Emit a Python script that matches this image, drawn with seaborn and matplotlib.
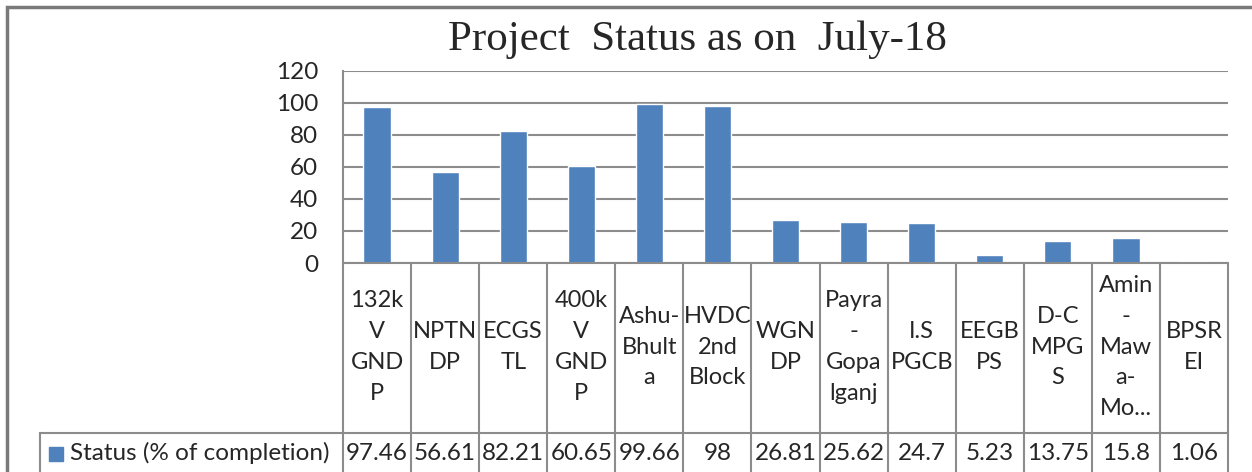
import matplotlib
matplotlib.use("Agg")
import matplotlib.pyplot as plt
import matplotlib.transforms as mtransforms
from matplotlib.patches import Rectangle
import seaborn as sns
import pandas as pd

# Chart data
projects = ["132k\nV\nGND\nP", "NPTN\nDP", "ECGS\nTL", "400k\nV\nGND\nP", "Ashu-\nBhult\na",
            "HVDC\n2nd\nBlock", "WGN\nDP", "Payra\n-\nGopa\nlganj", "I.S\nPGCB", "EEGB\nPS",
            "D-C\nMPG\nS", "Amin\n-\nMaw\na-\nMo...", "BPSR\nEI"]
status = [97.46, 56.61, 82.21, 60.65, 99.66, 98, 26.81, 25.62, 24.7, 5.23, 13.75, 15.8, 1.06]
value_labels = ["97.46", "56.61", "82.21", "60.65", "99.66", "98", "26.81", "25.62",
                "24.7", "5.23", "13.75", "15.8", "1.06"]
series_name = "Status (% of completion)"
yticks = [0, 20, 40, 60, 80, 100, 120]

sns.set_style("white")
plt.rcParams['font.family'] = ['Lato', 'DejaVu Sans']

W, H = 1252, 472
fig = plt.figure(figsize=(W / 100, H / 100), dpi=100)

def fx(px):
    return px / W

def fy(py):
    return 1 - py / H

ax = fig.add_axes([fx(343), fy(263), fx(1228) - fx(343), fy(71) - fy(263)])

df = pd.DataFrame({"project": projects, "status": status})
bar_color = "#4F81BD"
grid_color = "#8C8C8C"
sns.barplot(data=df, x="project", y="status", color=bar_color, width=0.4,
            saturation=1, ax=ax, zorder=3)

ax.set_ylim(0, 120)
ax.set_xlim(-0.5, len(projects) - 0.5)
ax.set_yticks(yticks)
ax.set_yticklabels([str(t) for t in yticks], fontsize=17.5)
ax.tick_params(axis="y", length=0, pad=18)
ax.set_xticks([])
ax.set_xlabel("")
ax.set_ylabel("")
ax.grid(axis="y", color=grid_color, linewidth=1.5, zorder=0)
for s in ["top", "right", "bottom"]:
    ax.spines[s].set_visible(False)
ax.spines["left"].set_color(grid_color)
ax.spines["left"].set_linewidth(1.5)

# Title
fig.text(fx(697), fy(40), "Project  Status as on  July-18", ha="center", va="center",
         fontsize=31, family="Liberation Serif")

# Outer chart border
fig.add_artist(Rectangle((fx(7), fy(480)), fx(1260) - fx(7), fy(7) - fy(480),
                         transform=fig.transFigure, fill=False, edgecolor="#7A7A7A",
                         linewidth=2.5))

# Data table under the axis
trans = mtransforms.blended_transform_factory(ax.transData, fig.transFigure)
n = len(projects)
line_kw = dict(color=grid_color, linewidth=1.5, clip_on=False)
for i in range(n + 1):
    fig.add_artist(plt.Line2D([i - 0.5, i - 0.5], [fy(263), fy(480)], transform=trans, **line_kw))
fig.add_artist(plt.Line2D([-0.5, n - 0.5], [fy(263), fy(263)], transform=trans, **line_kw))
fig.add_artist(plt.Line2D([fx(40), fx(1228)], [fy(433), fy(433)], transform=fig.transFigure, **line_kw))
fig.add_artist(plt.Line2D([fx(40), fx(40)], [fy(433), fy(480)], transform=fig.transFigure, **line_kw))

for i, (lab, val) in enumerate(zip(projects, value_labels)):
    fig.text(i, fy(347), lab, transform=trans, ha="center", va="center",
             multialignment="center", fontsize=17, linespacing=1.58)
    fig.text(i, fy(453), val, transform=trans, ha="center", va="center", fontsize=17.5)

# Legend key in the table
fig.add_artist(Rectangle((fx(49), fy(461)), fx(14), fy(447) - fy(461),
                         transform=fig.transFigure, color=bar_color))
fig.text(fx(70), fy(453), series_name, ha="left", va="center", fontsize=17.5)

fig.savefig("out.png", dpi=100)
